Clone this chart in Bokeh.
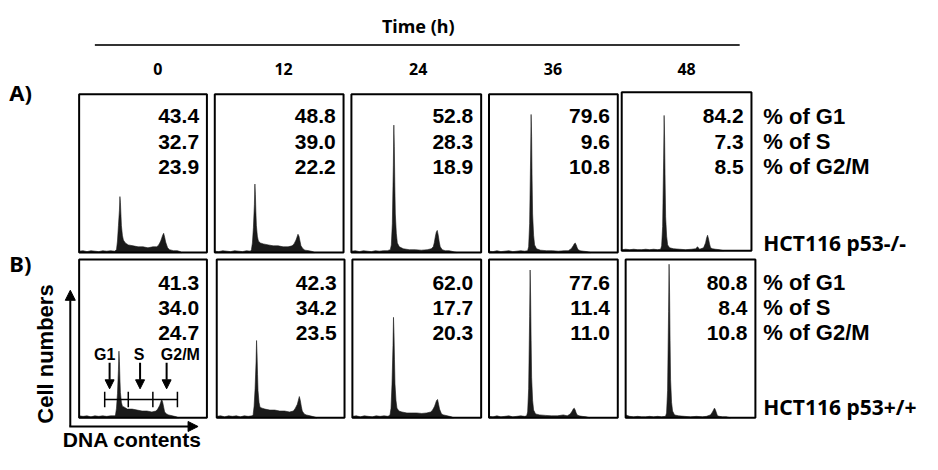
import math
from bokeh.plotting import figure
from bokeh.models import Range1d, Arrow, NormalHead
from bokeh.embed import file_html
from bokeh.resources import INLINE
from bokeh.core.properties import value

# ---------------- data ----------------
times = ["0", "12", "24", "36", "48"]
phase_labels = ["% of G1", "% of S", "% of G2/M"]
cell_lines = ["HCT116 p53-/-", "HCT116 p53+/+"]

a_g1 = [43.4, 48.8, 52.8, 79.6, 84.2]
a_s = [32.7, 39.0, 28.3, 9.6, 7.3]
a_g2m = [23.9, 22.2, 18.9, 10.8, 8.5]
b_g1 = [41.3, 42.3, 62.0, 77.6, 80.8]
b_s = [34.0, 34.2, 17.7, 11.4, 8.4]
b_g2m = [24.7, 23.5, 20.3, 11.0, 10.8]

# histogram profiles: DNA channel vs cell count
a0_ch = [0,4,8,12,16,20,24,28,32,36,38,39,40,41,41.5,42,42.5,43,44,45,47,50,55,60,65,70,75,79,81,83,84,85,86,87,88,90,92,96,100,103,104]
a0_n = [1.5,2,1,2,1.5,1,2,1.5,2,1.5,3,12,28,44,58,52,40,28,18,13,10,8,7,6,6,5,6,6,8,12,15,18,20,16,11,5,3,2,2,1,0]
a1_ch = [0,4,8,12,16,20,24,28,32,36,37,38,39,40,40.5,41,41.5,42,43,44,46,49,54,59,64,69,74,78,80,82,83,84,85,86,87,89,91,95,99,101]
a1_n = [1.5,1,2,1.5,1,2,1.5,1,2,1.5,3,10,26,50,71,60,42,28,17,12,10,9,8,7,7,6,6,7,9,13,16,19,17,12,7,4,2.5,2,1,0]
a2_ch = [0,4,8,12,16,20,24,28,32,36,39,40,41,42,42.5,43,43.5,44,45,46,48,52,58,64,70,76,80,82,83,84,85,86,87,88,89,91,94,98,102,106]
a2_n = [1.5,2,1,2,1.5,1,2,1.5,2,2,3,8,30,90,132,110,70,40,20,10,6,4,3,3,2.5,3,4,6,10,16,21,23,18,11,6,3,2,2,1,0]
a3_ch = [0,4,8,12,16,20,24,28,32,36,39,40,41,42,42.5,43,43.5,44,45,46,48,52,58,64,70,76,80,83,85,86,87,88,89,90,92,95,99,103]
a3_n = [1.5,1,2,1,1.5,2,1,1.5,2,1.5,2,6,30,100,143,120,75,40,18,8,4,2.5,2,2,1.5,2,2,4,7,9,10,8,5,3,2,1.5,1,0]
a4_ch = [0,4,8,12,16,20,24,28,32,36,39,40,41,42,42.5,43,43.5,44,45,46,48,52,58,64,70,74,76,78,82,84,85,86,87,88,89,91,94,98,102]
a4_n = [1,1.5,1,1.5,1,1,1.5,1,1.5,1,1.5,5,25,95,140,115,70,35,15,6,3,2,1.5,1,1.5,2,4,1.5,3,8,13,16,12,7,3,2,1.5,1,0]

b0_ch = [0,4,8,12,16,20,24,28,32,36,37,38,39,40,40.5,41,41.5,42,43,44,46,49,54,59,64,69,74,78,80,82,83,84,85,86,87,89,91,95,99,101]
b0_n = [2,1.5,2,1,2,1.5,2,1.5,2,2,3,10,25,50,69,58,40,26,16,12,11,9,9,8,7,7,6,7,9,13,16,19,16,11,6,4,3,2,1,0]
b1_ch = [0,4,8,12,16,20,24,28,32,36,37,38,39,40,40.5,41,41.5,42,43,44,46,49,54,59,64,69,74,78,80,82,83,84,85,86,87,89,91,95,99,102]
b1_n = [1.5,2,1,2,1.5,2,1,2,1.5,2,3,12,30,58,80,66,45,28,16,11,10,9,8,8,7,7,6,7,10,14,18,22,18,12,7,4,3,2,1,0]
b2_ch = [0,4,8,12,16,20,24,28,32,36,38,39,40,41,41.5,42,42.5,43,44,45,47,50,55,60,65,70,75,79,81,83,84,85,86,87,88,90,92,96,100,102]
b2_n = [1.5,2,1,2,1.5,1,2,1.5,2,1.5,3,10,35,75,104,88,60,35,18,10,7,6,5,5,5,4.5,5,6,8,12,15,18,19,14,9,4,3,2,1,0]
b3_ch = [0,4,8,12,16,20,24,28,32,36,38,39,40,41,41.5,42,42.5,43,44,45,47,51,57,63,69,75,79,82,84,85,86,87,88,89,91,94,98,102]
b3_n = [1.5,1,2,1,1.5,2,1,1.5,2,1.5,2,6,30,105,153,125,80,42,18,8,4,3,2.5,2,2,3,2,4,7,9,10,8,5,3,2,1.5,1,0]
b4_ch = [0,4,8,12,16,20,24,28,32,36,40,41,42,43,43.5,44,44.5,45,46,47,49,53,59,65,71,77,81,85,87,88,89,90,91,92,94,97,101,105]
b4_n = [3,1.5,1,1.5,1,1,1.5,1,1.5,1,1.5,5,28,110,159,130,80,40,16,7,3,2,1.5,1,1.5,1,1.5,3,6,8,10,8,5,2,1.5,1,1,0]

# ---------------- layout (page pixels) ----------------
a_left = [80, 218, 357, 497, 632]
a_right = [210, 349, 489, 628, 764]
a_top = [97, 97, 97, 97, 95]
a_bottom = [261, 261, 261, 261, 259]
b_left = [80, 220, 358, 497, 636]
b_right = [210, 350, 489, 628, 768]
b_top = [268, 268, 268, 268, 268]
b_bottom = [432, 432, 432, 432, 432]
a_rows_y = [120, 146, 172]
b_rows_y = [292, 318, 344]
time_x = [160, 288, 425, 562, 698]

ARIAL = value("Liberation Sans")
GOTHIC = value("Noto Sans")
INK = "#000000"

p = figure(width=922, height=454, x_range=Range1d(0, 938), y_range=Range1d(470, 0),
           output_backend="svg", toolbar_location=None, x_axis_type=None, y_axis_type=None,
           min_border=0)
p.grid.visible = False
p.outline_line_color = None
p.background_fill_color = "white"
p.border_fill_color = "white"

# header
p.text(x=[425], y=[26], text=["Time (h)"], text_font=GOTHIC, text_font_style="bold",
       text_font_size="18px", text_align="center", text_baseline="middle", text_color=INK)
p.segment(x0=[96], y0=[46], x1=[752], y1=[46], line_color="#333333", line_width=2)
p.text(x=time_x, y=[71] * 5, text=times, text_font=GOTHIC, text_font_style="bold",
       text_font_size="16px", text_align="center", text_baseline="middle", text_color=INK)

p.text(x=[9, 9], y=[95, 272], text=["A)", "B)"], text_font=GOTHIC, text_font_style="bold",
       text_font_size="22px", text_align="left", text_baseline="middle", text_color=INK)

hists = [
    [(a0_ch, a0_n), (a1_ch, a1_n), (a2_ch, a2_n), (a3_ch, a3_n), (a4_ch, a4_n)],
    [(b0_ch, b0_n), (b1_ch, b1_n), (b2_ch, b2_n), (b3_ch, b3_n), (b4_ch, b4_n)],
]
rows = [
    (a_left, a_right, a_top, a_bottom, [a_g1, a_s, a_g2m], a_rows_y),
    (b_left, b_right, b_top, b_bottom, [b_g1, b_s, b_g2m], b_rows_y),
]

for r, (lefts, rights, tops, bottoms, vals, rys) in enumerate(rows):
    for i in range(5):
        ch, n = hists[r][i]
        sub = p.subplot(x_source=Range1d(0, 130), y_source=Range1d(0, 164),
                        x_target=Range1d(lefts[i], rights[i]),
                        y_target=Range1d(bottoms[i], tops[i]))
        xs = [ch[0]] + list(ch) + [ch[-1]]
        ys = [0] + list(n) + [0]
        sub.patch(x=xs, y=ys, fill_color="#1a1a1a", line_color="#1a1a1a", line_width=0.6)
        for k in range(3):
            p.text(x=[rights[i] - 8], y=[rys[k]], text=[f"{vals[k][i]:.1f}"], text_font=ARIAL,
                   text_font_style="bold", text_font_size="21px", text_align="right",
                   text_baseline="middle", text_color=INK)
    p.quad(left=lefts, right=rights, top=tops, bottom=bottoms, fill_color=None,
           line_color="black", line_width=2)
    p.text(x=[776] * 3, y=rys, text=phase_labels, text_font=ARIAL, text_font_style="bold",
           text_font_size="22px", text_align="left", text_baseline="middle", text_color=INK)

p.text(x=[776, 776], y=[251, 421], text=cell_lines, text_font=GOTHIC, text_font_style="bold",
       text_font_size="21px", text_align="left", text_baseline="middle", text_color=INK)

# axis arrows
p.add_layout(Arrow(x_start=71, y_start=441, x_end=71, y_end=300, line_width=2, line_color=INK,
                   end=NormalHead(size=10, fill_color=INK, line_color=INK)))
p.add_layout(Arrow(x_start=70, y_start=441, x_end=201, y_end=441, line_width=2, line_color=INK,
                   end=NormalHead(size=10, fill_color=INK, line_color=INK)))
p.text(x=[46], y=[366], text=["Cell numbers"], angle=math.pi / 2, text_font=ARIAL,
       text_font_style="bold", text_font_size="22px", text_align="center",
       text_baseline="middle", text_color=INK)
p.text(x=[134], y=[454], text=["DNA contents"], text_font=ARIAL, text_font_style="bold",
       text_font_size="21px", text_align="center", text_baseline="middle", text_color=INK)

# phase markers in first B panel
p.text(x=[106, 141, 183], y=[366] * 3, text=["G1", "S", "G2/M"], text_font=ARIAL,
       text_font_style="bold", text_font_size="16px", text_align="center",
       text_baseline="middle", text_color=INK)
for ax in [111, 142, 169]:
    p.add_layout(Arrow(x_start=ax, y_start=375, x_end=ax, y_end=402, line_width=2,
                       line_color=INK, end=NormalHead(size=9, fill_color=INK, line_color=INK)))
p.segment(x0=[106], y0=[413], x1=[180], y1=[413], line_color=INK, line_width=1.5)
p.segment(x0=[106, 130, 155, 180], y0=[405] * 4, x1=[106, 130, 155, 180], y1=[421] * 4,
          line_color=INK, line_width=1.5)

open("out.html", "w").write(file_html(p, INLINE))
